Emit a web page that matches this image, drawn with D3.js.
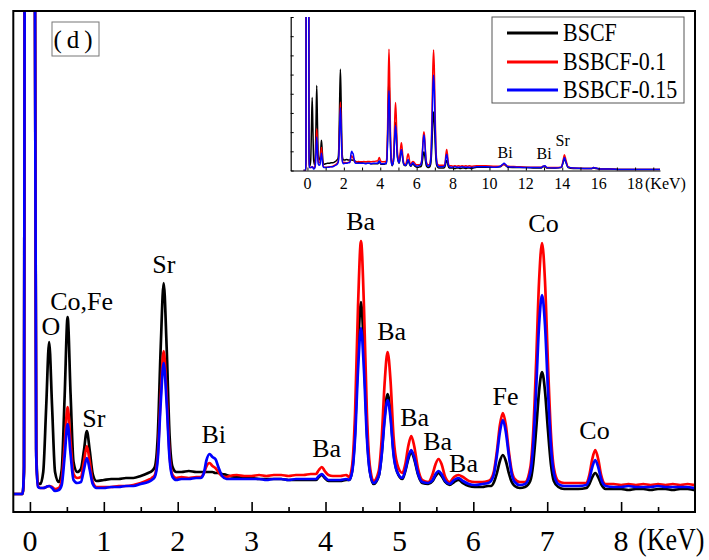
<!DOCTYPE html>
<html><head><meta charset="utf-8">
<script src="https://cdn.jsdelivr.net/npm/d3@7"></script>
<style>
body{margin:0;background:#fff}
svg{display:block}
text{font-family:"Liberation Serif","Times New Roman",serif;fill:#000}
</style>
</head><body>
<svg id="chart" width="709" height="560"></svg>
<script>
// ---- data (energy in keV, intensity in arbitrary counts) ----
const energy = [
 -0.22,-0.10,-0.08,-0.07,-0.03,0.00,0.03,0.065,0.085,0.11,
 0.14,0.18,0.22,0.26,0.30,0.34,0.39,0.43,0.47,0.51,0.55,0.59,0.64,0.69,0.73,0.77,0.81,0.85,0.90,
 1.0,1.1,1.2,1.3,1.4,1.5,1.6,1.65,1.69,1.73,1.77,1.81,1.85,1.89,1.93,1.98,
 2.05,2.15,2.25,2.31,2.35,2.39,2.43,2.47,2.51,2.55,2.60,2.66,
 2.7,2.8,2.9,3.0,3.1,3.2,3.3,3.4,3.5,3.6,3.7,3.8,3.87,3.91,3.95,3.99,4.04,4.1,4.2,4.28,
 4.32,4.36,4.40,4.44,4.48,4.52,4.56,4.60,4.65,4.72,4.76,4.80,4.84,4.88,4.92,4.97,5.04,
 5.08,5.12,5.16,5.20,5.25,5.31,5.39,5.45,5.49,5.53,5.57,5.62,5.68,5.74,5.80,5.86,5.94,
 6.02,6.12,6.20,6.24,6.28,6.32,6.36,6.40,6.44,6.48,6.52,6.56,6.63,6.70,6.77,6.81,6.85,6.89,6.93,6.97,7.01,7.05,7.09,7.15,7.23,
 7.32,7.42,7.53,7.57,7.61,7.65,7.69,7.73,7.79,7.9,8.0,8.1,8.2,8.3,8.4,8.5,8.6,8.7,8.8,8.9,9.0,
 9.3,9.8,10.3,10.6,10.7,10.8,10.9,11.0,11.5,12.0,12.5,12.85,12.95,13.05,13.15,13.6,13.95,14.05,14.12,14.2,14.32,14.6,15.2,15.6,15.72,15.85,16.1,16.6,17.2,17.8,18.4,19.0,19.4
];
const bscf = [
 0,0,22,600,850,950,850,600,45,11,
 10,22,87,152,87,22,12,24,98,177,100,32,22,25,43,63,43,20,13,
 14,15,15,16,16,18,21,23,27,58,147,211,147,58,27,22,
 22,23,22,22,22,22,22,22,21,21,20,19,
 18,17,16,16,15,15,15,15,14,14,14,14,14,17,19,16,13,13,13,14,
 14,23,63,143,192,143,63,23,10,18,40,78,100,80,42,22,15,
 23,35,42,35,20,11,10,13,18,21,18,12,9,12,14,11,8,
 7,7,8,8,12,21,33,39,33,21,12,8,6,7,13,30,64,103,122,103,64,30,13,7,5,
 5,5,6,10,17,21,17,10,5,5,5,4,5,5,4,5,5,4,5,5,4,
 7,7,7,8,11,13,10,7,6,6,5,5,8,8,5,5,6,17,25,17,6,4,4,4,5,4,3,3,2,2,2,2,2
];
const bsbcf01 = [
 0,0,25,600,880,980,880,600,40,8,
 6,6,7,8,7,5,6,14,49,87,52,20,16,17,32,48,32,12,7,
 7,7,8,8,9,11,14,16,19,39,99,143,99,39,19,16,
 17,16,17,17,20,28,31,28,26,22,18,17,
 18,19,18,18,19,18,19,19,18,19,19,20,20,24,27,23,19,18,18,19,
 17,28,81,188,253,188,81,28,13,23,55,111,142,113,58,30,21,
 30,48,58,48,26,14,12,20,30,35,30,17,12,17,19,17,13,
 12,12,13,15,23,43,69,81,69,43,23,15,12,12,26,61,131,213,251,213,131,61,26,13,11,
 11,11,11,19,35,44,35,19,10,10,9,10,9,10,9,10,9,10,9,10,9,
 10,10,9,9,11,13,11,9,8,7,7,7,9,9,6,6,7,22,33,22,8,5,4,4,6,5,3,3,2,2,2,2,2
];
const bsbcf015 = [
 0,0,28,600,900,1000,900,600,38,7,
 6,6,7,8,6,3,4,9,38,70,40,14,11,12,24,36,24,10,6,
 6,7,7,8,8,10,12,14,17,35,91,131,91,35,17,14,
 15,15,16,16,20,34,40,37,35,27,18,15,
 15,15,15,15,15,14,15,15,14,15,15,15,15,18,20,17,14,14,14,15,
 14,22,56,124,166,124,56,22,11,18,39,74,94,76,40,22,16,
 24,37,44,37,21,12,11,14,20,23,20,13,10,14,16,13,10,
 9,10,11,13,20,39,62,74,62,39,20,12,9,10,21,49,104,169,199,169,104,49,21,10,8,
 8,8,9,15,27,34,27,15,8,7,7,8,7,7,7,8,7,7,7,7,6,
 8,8,7,9,12,15,12,8,7,6,6,6,9,10,6,5,7,18,27,18,7,5,4,4,6,5,3,3,2,2,2,2,2
];
const seriesNames = ["BSCF", "BSBCF-0.1", "BSBCF-0.15"];
const seriesColors = ["#000000", "#ff0000", "#0000ff"];

const xTicks = [0,1,2,3,4,5,6,7,8];
const xTickLabels = ["0","1","2","3","4","5","6","7","8"];
const xMinorTicks = [0.5,1.5,2.5,3.5,4.5,5.5,6.5,7.5,8.5];
const axisUnit = "(KeV)";

const insetXTicks = [0,2,4,6,8,10,12,14,16,18];
const insetXTickLabels = ["0","2","4","6","8","10","12","14","16","18"];
const insetXMinor = [1,3,5,7,9,11,13,15,17,19];
const insetYTicks = [0,40,80,120,160,200,240,280,320];

const peakText   = ["O","Co,Fe","Sr","Sr","Bi","Ba","Ba","Ba","Ba","Ba","Ba","Fe","Co","Co"];
const peakEnergy = [0.284,0.70,0.865,1.812,2.488,4.016,4.475,4.895,5.206,5.517,5.868,6.436,6.95,7.64];
const peakLevel  = [159,184,67,221,51,37,264,154,68,44,22,89,262,55];

const insetPeakText   = ["Bi","Bi","Sr"];
const insetPeakEnergy = [10.86,13.0,14.02];
const insetPeakLevel  = [27,23,52];

const panelTag = "(d)";

// ---- drawing ----
const series = [bscf, bsbcf01, bsbcf015].map((vals, i) => ({
  name: seriesNames[i], color: seriesColors[i],
  pts: energy.map((e, j) => [e, vals[j]])
}));

const svg = d3.select("#chart");

// main scales
const xMain = d3.scaleLinear().domain([-0.225, 9.0]).range([13.3, 695]);
const yMain = d3.scaleLinear().domain([-18, 483]).range([512, 11]);

const defs = svg.append("defs");
defs.append("clipPath").attr("id","clipMain").append("rect")
  .attr("x",13.3).attr("y",11).attr("width",695-13.3).attr("height",512-11);

const lineMain = d3.line().x(d=>xMain(d[0])).y(d=>yMain(d[1])).curve(d3.curveMonotoneX);
const gMain = svg.append("g").attr("clip-path","url(#clipMain)");
series.forEach(s => {
  gMain.append("path").attr("d", lineMain(s.pts))
    .attr("fill","none").attr("stroke",s.color).attr("stroke-width",2.7)
    .attr("stroke-linejoin","round");
});

// main x ticks (inward)
const gx = svg.append("g").attr("transform",`translate(0,${yMain(-18)})`)
  .call(d3.axisBottom(xMain).tickValues(xTicks).tickSize(-10).tickSizeOuter(0).tickFormat(""));
gx.select(".domain").remove();
gx.selectAll("line").attr("stroke","#000").attr("stroke-width",1.6);
const gxm = svg.append("g").attr("transform",`translate(0,${yMain(-18)})`)
  .call(d3.axisBottom(xMain).tickValues(xMinorTicks).tickSize(-5).tickSizeOuter(0).tickFormat(""));
gxm.select(".domain").remove();
gxm.selectAll("line").attr("stroke","#000").attr("stroke-width",1.6);

svg.append("g").selectAll("text").data(xTicks).join("text")
  .attr("x", d => xMain(d)).attr("y", 551)
  .attr("text-anchor","middle").style("font-size","30px")
  .text((d,i) => xTickLabels[i]);
svg.append("text").attr("transform","translate(638,550) scale(1,1.2)")
  .style("font-size","26px").text(axisUnit);

// frame
svg.append("rect").attr("x",13.3).attr("y",11).attr("width",695-13.3).attr("height",512-11)
  .attr("fill","none").attr("stroke","#000").attr("stroke-width",2);

// peak labels
svg.append("g").selectAll("text").data(peakText).join("text")
  .attr("x",(d,i)=>xMain(peakEnergy[i])).attr("y",(d,i)=>yMain(peakLevel[i]))
  .attr("text-anchor","middle").style("font-size","26px").text(d=>d);

// panel tag
svg.append("rect").attr("x",52).attr("y",22).attr("width",47).attr("height",34)
  .attr("fill","#fff").attr("stroke","#777").attr("stroke-width",1);
svg.append("text").attr("x",75.5).attr("y",48).attr("text-anchor","middle")
  .style("font-size","25px").style("letter-spacing","5px").text(panelTag);

// ---- inset ----
const xIn = d3.scaleLinear().domain([-0.92, 19.37]).range([290.7, 660]);
const yIn = d3.scaleLinear().domain([0, 320]).range([170.5, 17]);
defs.append("clipPath").attr("id","clipIn").append("rect")
  .attr("x",290.7).attr("y",17).attr("width",660-290.7).attr("height",170.5-17);
const lineIn = d3.line().x(d=>xIn(d[0])).y(d=>yIn(d[1])).curve(d3.curveMonotoneX);
const gIn = svg.append("g").attr("clip-path","url(#clipIn)");
series.forEach(s => {
  gIn.append("path").attr("d", lineIn(s.pts))
    .attr("fill","none").attr("stroke",s.color).attr("stroke-width",1.5)
    .attr("stroke-linejoin","round");
});

const ix = svg.append("g").attr("transform",`translate(0,${yIn(0)})`)
  .call(d3.axisBottom(xIn).tickValues(insetXTicks.concat(insetXMinor)).tickSize(-3).tickSizeOuter(0).tickFormat(""));
ix.select(".domain").attr("stroke","#000").attr("stroke-width",1.2);
ix.selectAll("line").attr("stroke","#000").attr("stroke-width",1);
const iy = svg.append("g").attr("transform",`translate(${xIn.range()[0]},0)`)
  .call(d3.axisLeft(yIn).tickValues(insetYTicks).tickSize(-3).tickSizeOuter(0).tickFormat(""));
iy.select(".domain").attr("stroke","#000").attr("stroke-width",1.2);
iy.selectAll("line").attr("stroke","#000").attr("stroke-width",1);

svg.append("g").selectAll("text").data(insetXTicks).join("text")
  .attr("x",d=>xIn(d)).attr("y",189).attr("text-anchor","middle")
  .style("font-size","16px").text((d,i)=>insetXTickLabels[i]);
svg.append("text").attr("x",645).attr("y",189).style("font-size","16px").text(axisUnit);

svg.append("g").selectAll("text").data(insetPeakText).join("text")
  .attr("x",(d,i)=>xIn(insetPeakEnergy[i])).attr("y",(d,i)=>yIn(insetPeakLevel[i]))
  .attr("text-anchor","middle").style("font-size","16px").text(d=>d);

// legend
const lg = svg.append("g");
lg.append("rect").attr("x",492).attr("y",17).attr("width",192).attr("height",86)
  .attr("fill","#fff").attr("stroke","#555").attr("stroke-width",1);
const legY = [33, 62, 90];
series.forEach((s,i) => {
  lg.append("line").attr("x1",507).attr("x2",558).attr("y1",legY[i]).attr("y2",legY[i])
    .attr("stroke",s.color).attr("stroke-width",3);
  lg.append("text").attr("transform",`translate(563,${legY[i]+8}) scale(1,1.15)`)
    .style("font-size","22px").text(s.name);
});
</script>
</body></html>
